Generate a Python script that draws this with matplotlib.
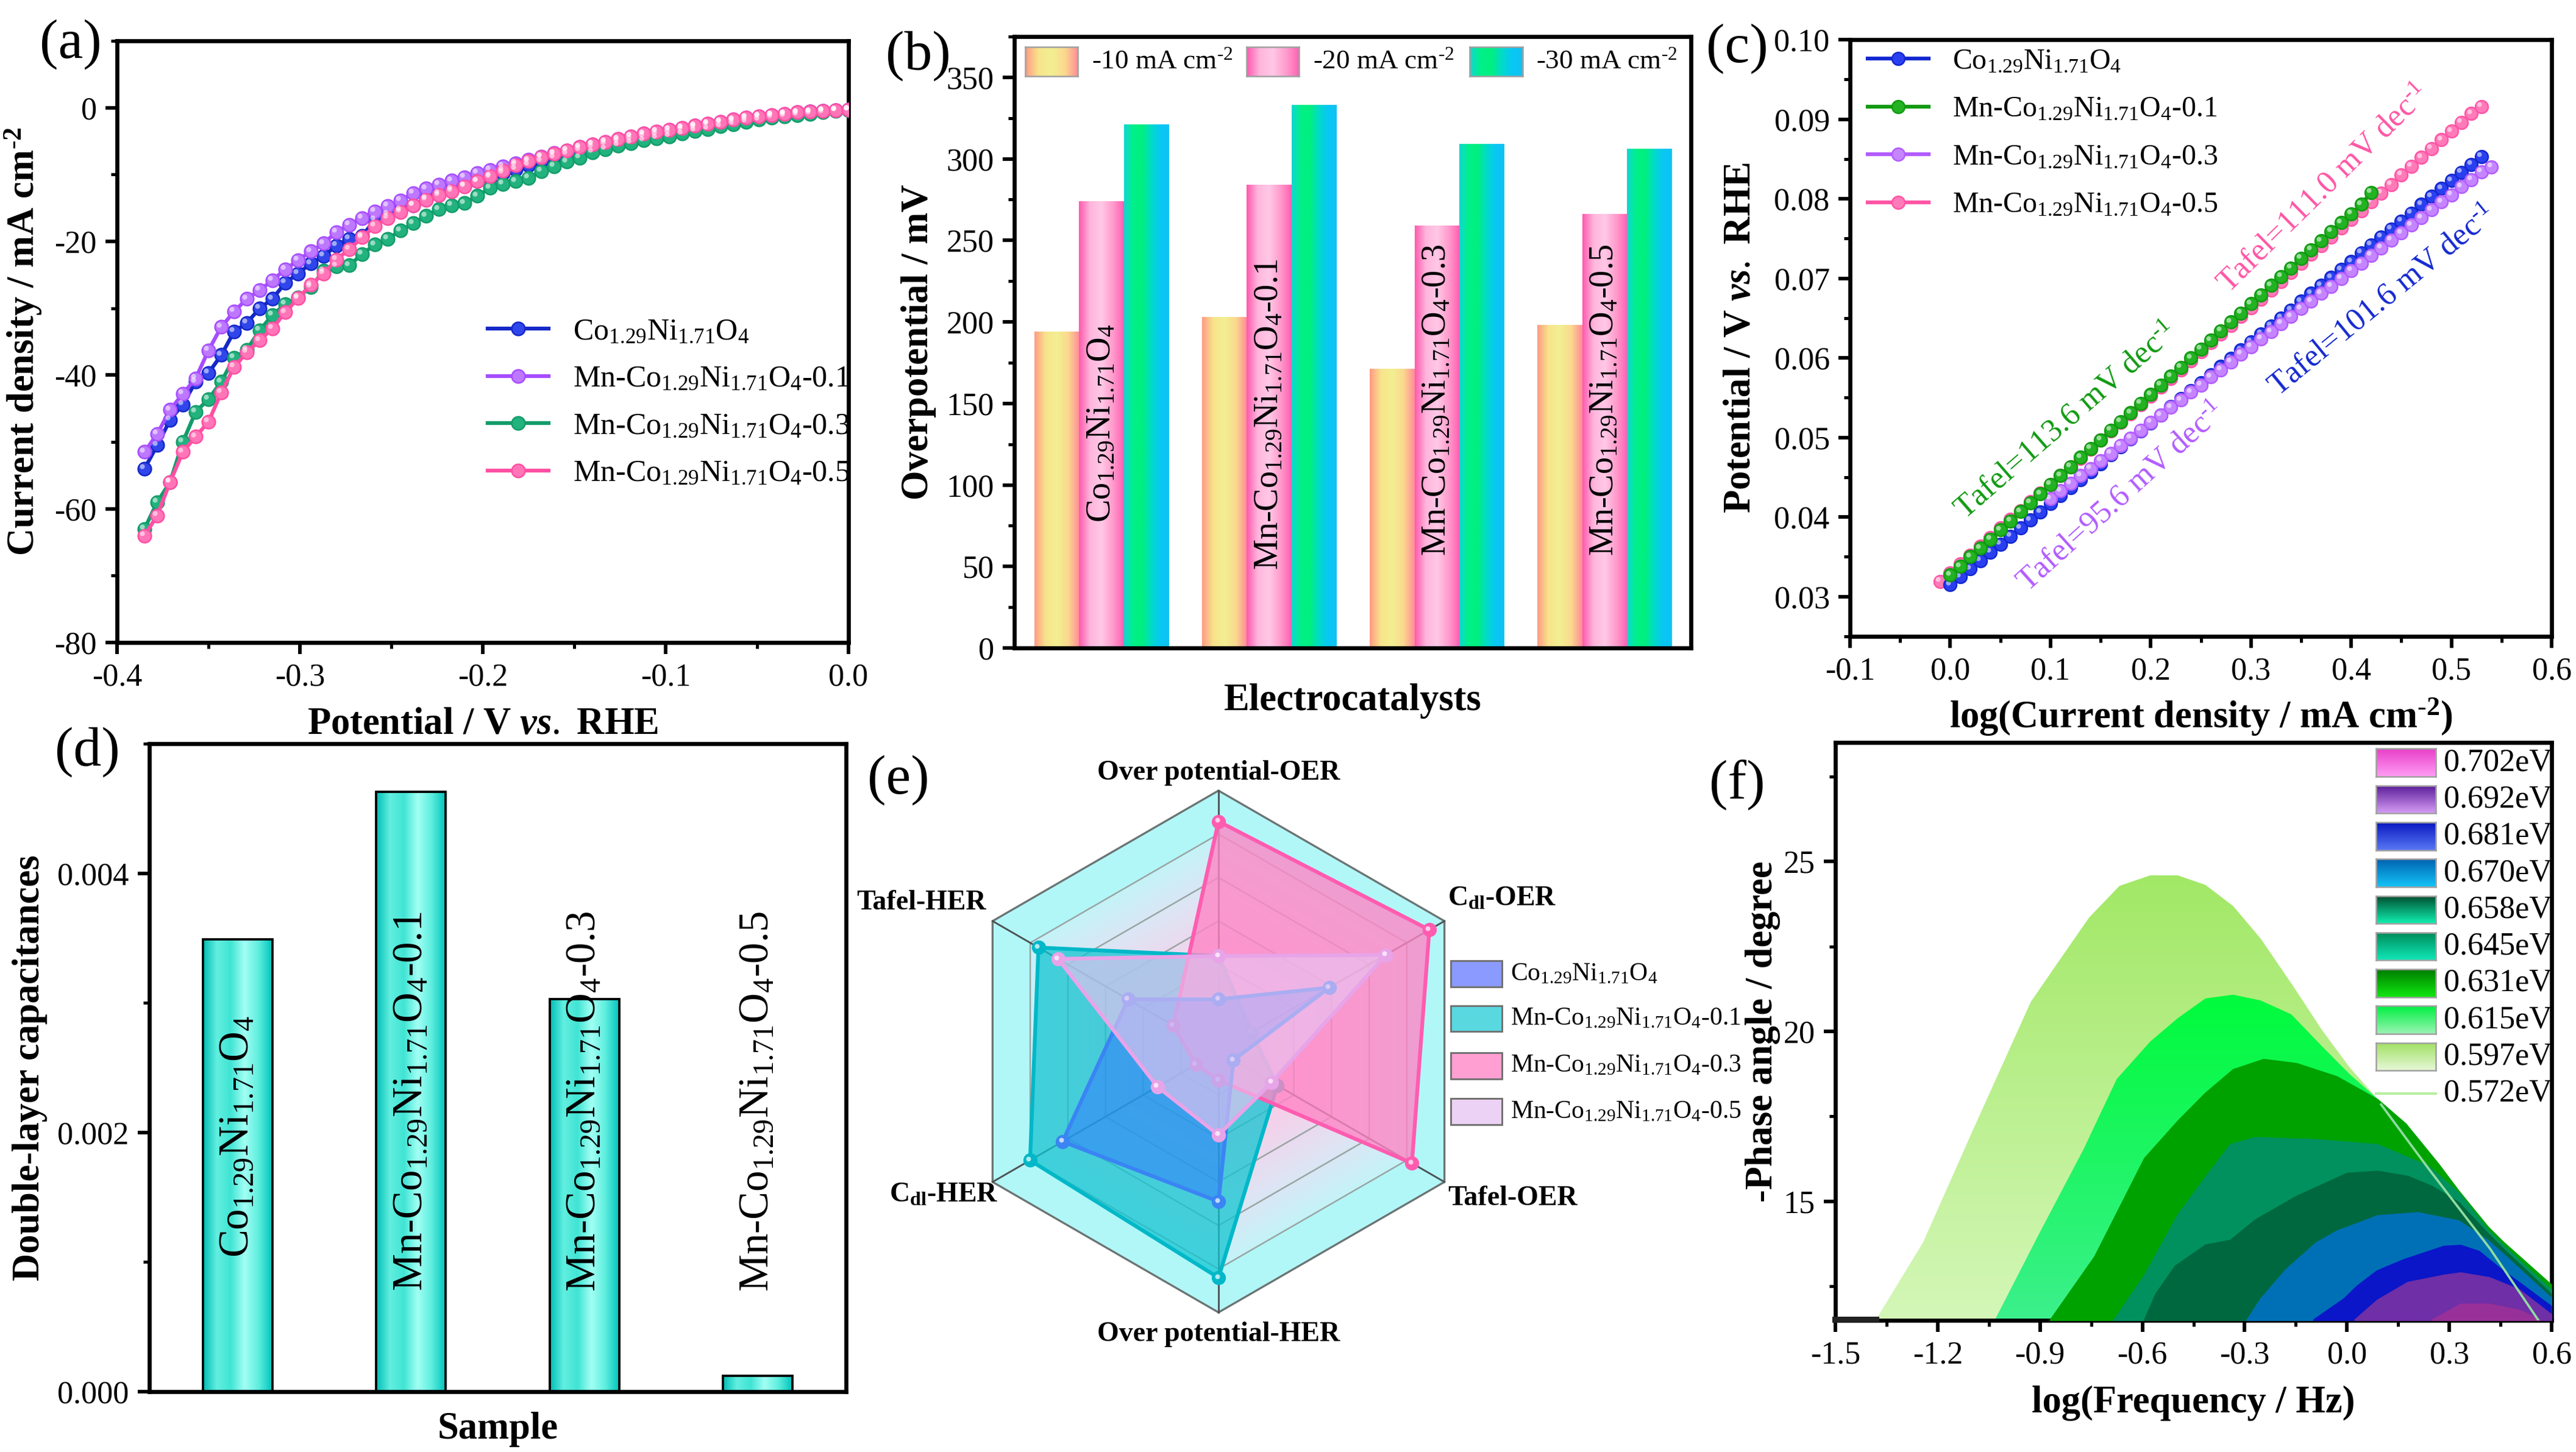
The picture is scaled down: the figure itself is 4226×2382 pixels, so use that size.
import numpy as np
import matplotlib
matplotlib.use("Agg")
import matplotlib.pyplot as plt
from matplotlib.colors import LinearSegmentedColormap
from matplotlib.lines import Line2D
from matplotlib.patches import Polygon, Rectangle
from matplotlib.ticker import MultipleLocator
from matplotlib.transforms import offset_copy

plt.rcParams.update({
    "font.family": ["Liberation Serif", "DejaVu Serif"],
    "mathtext.fontset": "custom",
    "mathtext.rm": "Liberation Serif",
    "mathtext.it": "Liberation Serif:italic:bold",
    "mathtext.bf": "Liberation Serif:bold",
    "mathtext.default": "regular",
    "axes.unicode_minus": False,
    "axes.linewidth": 1.6,
    "xtick.direction": "out",
    "ytick.direction": "out",
    "xtick.major.width": 1.4,
    "ytick.major.width": 1.4,
    "xtick.minor.width": 1.2,
    "ytick.minor.width": 1.2,
    "xtick.major.size": 4.5,
    "ytick.major.size": 4.5,
    "xtick.minor.size": 2.5,
    "ytick.minor.size": 2.5,
    "xtick.labelsize": 12.5,
    "ytick.labelsize": 12.5,
})

# ---------------------------------------------------------------- data
co_name = r"Co$_{1.29}$Ni$_{1.71}$O$_{4}$"
mn_name = r"Mn-Co$_{1.29}$Ni$_{1.71}$O$_{4}$-"
samples = [co_name, mn_name + "0.1", mn_name + "0.3", mn_name + "0.5"]
per_cm2 = r"cm$^{\text{-}2}$"

# (a) HER polarisation curves
lsv_potential = [-0.385, -0.378, -0.371, -0.364, -0.357, -0.350, -0.343, -0.336,
                 -0.329, -0.322, -0.315, -0.308, -0.301, -0.294, -0.287, -0.280,
                 -0.273, -0.266, -0.259, -0.252, -0.245, -0.238, -0.231, -0.224,
                 -0.217, -0.210, -0.203, -0.196, -0.189, -0.182, -0.175, -0.168,
                 -0.161, -0.154, -0.147, -0.140, -0.133, -0.126, -0.119, -0.112,
                 -0.105, -0.098, -0.091, -0.084, -0.077, -0.070, -0.063, -0.056,
                 -0.049, -0.042, -0.035, -0.028, -0.021, -0.014, -0.007, 0.000]
lsv_co = [-54.0, -50.5, -46.7, -44.4, -41.0, -39.7, -37.0, -33.5, -32.2, -30.0,
          -28.6, -26.2, -24.8, -23.3, -22.2, -20.6, -19.6, -19.2, -16.8, -16.0,
          -15.3, -14.6, -13.6, -12.9, -12.2, -11.7, -11.0, -10.4, -9.8, -9.2,
          -8.6, -8.0, -7.5, -6.9, -6.4, -5.9, -5.5, -5.1, -4.7, -4.3,
          -4.0, -3.7, -3.3, -3.0, -2.6, -2.3, -2.0, -1.7, -1.4, -1.2,
          -1.0, -0.8, -0.6, -0.5, -0.4, -0.3]
lsv_mn01 = [-51.5, -48.8, -45.2, -42.8, -40.5, -36.3, -32.8, -30.5, -28.6, -27.3,
            -25.8, -24.2, -22.8, -21.5, -20.3, -18.6, -17.5, -16.5, -15.5, -14.7,
            -13.9, -12.8, -12.1, -11.5, -10.9, -10.4, -9.8, -9.3, -8.8, -8.3,
            -7.8, -7.3, -6.8, -6.4, -5.9, -5.5, -5.1, -4.7, -4.3, -3.9,
            -3.6, -3.3, -3.0, -2.7, -2.4, -2.1, -1.8, -1.5, -1.3, -1.1,
            -0.9, -0.7, -0.6, -0.5, -0.4, -0.3]
lsv_mn03 = [-63.0, -59.0, -56.0, -50.0, -45.5, -43.6, -41.0, -37.4, -36.2, -33.3,
            -31.0, -29.4, -28.4, -26.8, -24.4, -23.7, -23.6, -21.9, -20.5, -19.6,
            -18.4, -17.3, -16.2, -15.2, -14.6, -14.3, -13.2, -12.0, -11.4, -11.0,
            -10.5, -9.5, -8.8, -8.1, -7.5, -6.7, -6.2, -5.7, -5.3, -4.9,
            -4.6, -4.3, -3.9, -3.5, -3.2, -2.8, -2.5, -2.1, -1.8, -1.5,
            -1.3, -1.1, -0.9, -0.7, -0.5, -0.4]
lsv_mn05 = [-64.0, -61.0, -56.0, -51.5, -49.2, -47.0, -42.6, -38.8, -36.6, -34.8,
            -33.0, -30.6, -28.5, -26.5, -24.8, -22.7, -21.2, -19.4, -17.7, -16.5,
            -15.6, -14.6, -13.8, -13.1, -12.5, -11.8, -11.0, -10.2, -9.4, -8.6,
            -8.0, -7.4, -6.9, -6.4, -5.9, -5.5, -5.1, -4.7, -4.3, -3.9,
            -3.6, -3.3, -3.0, -2.7, -2.4, -2.1, -1.8, -1.5, -1.3, -1.1,
            -0.9, -0.7, -0.6, -0.5, -0.4, -0.3]

# (b) overpotentials
current_levels = ["-10 mA " + per_cm2, "-20 mA " + per_cm2, "-30 mA " + per_cm2]
eta_10 = [194, 203, 171, 198]
eta_20 = [274, 284, 259, 266]
eta_30 = [321, 333, 309, 306]

# (c) Tafel plots
tafel_co_x = [0.00, 0.01, 0.02, 0.03, 0.04, 0.05, 0.06, 0.07, 0.08, 0.09,
              0.10, 0.11, 0.12, 0.13, 0.14, 0.15, 0.16, 0.17, 0.18, 0.19,
              0.20, 0.21, 0.22, 0.23, 0.24, 0.25, 0.26, 0.27, 0.28, 0.29,
              0.30, 0.31, 0.32, 0.33, 0.34, 0.35, 0.36, 0.37, 0.38, 0.39,
              0.40, 0.41, 0.42, 0.43, 0.44, 0.45, 0.46, 0.47, 0.48, 0.49,
              0.50, 0.51, 0.52, 0.53]
tafel_co_y = [0.0315, 0.0325, 0.0335, 0.0345, 0.0356, 0.0366, 0.0376, 0.0386, 0.0396, 0.0406,
              0.0417, 0.0427, 0.0437, 0.0447, 0.0457, 0.0467, 0.0478, 0.0488, 0.0498, 0.0508,
              0.0518, 0.0528, 0.0539, 0.0549, 0.0559, 0.0569, 0.0579, 0.0589, 0.0599, 0.0610,
              0.0620, 0.0630, 0.0640, 0.0650, 0.0660, 0.0671, 0.0681, 0.0691, 0.0701, 0.0711,
              0.0721, 0.0732, 0.0742, 0.0752, 0.0762, 0.0772, 0.0782, 0.0793, 0.0803, 0.0813,
              0.0823, 0.0833, 0.0843, 0.0853]
tafel_01_x = [0.00, 0.01, 0.02, 0.03, 0.04, 0.05, 0.06, 0.07, 0.08, 0.09,
              0.10, 0.11, 0.12, 0.13, 0.14, 0.15, 0.16, 0.17, 0.18, 0.19,
              0.20, 0.21, 0.22, 0.23, 0.24, 0.25, 0.26, 0.27, 0.28, 0.29,
              0.30, 0.31, 0.32, 0.33, 0.34, 0.35, 0.36, 0.37, 0.38, 0.39,
              0.40, 0.41, 0.42]
tafel_01_y = [0.0327, 0.0338, 0.0350, 0.0361, 0.0372, 0.0384, 0.0395, 0.0407, 0.0418, 0.0429,
              0.0441, 0.0452, 0.0463, 0.0475, 0.0486, 0.0497, 0.0509, 0.0520, 0.0531, 0.0543,
              0.0554, 0.0566, 0.0577, 0.0588, 0.0600, 0.0611, 0.0622, 0.0634, 0.0645, 0.0656,
              0.0668, 0.0679, 0.0691, 0.0702, 0.0713, 0.0725, 0.0736, 0.0747, 0.0759, 0.0770,
              0.0781, 0.0793, 0.0808]
tafel_03_x = [0.10, 0.11, 0.12, 0.13, 0.14, 0.15, 0.16, 0.17, 0.18, 0.19,
              0.20, 0.21, 0.22, 0.23, 0.24, 0.25, 0.26, 0.27, 0.28, 0.29,
              0.30, 0.31, 0.32, 0.33, 0.34, 0.35, 0.36, 0.37, 0.38, 0.39,
              0.40, 0.41, 0.42, 0.43, 0.44, 0.45, 0.46, 0.47, 0.48, 0.49,
              0.50, 0.51, 0.52, 0.53, 0.54]
tafel_03_y = [0.0423, 0.0433, 0.0442, 0.0452, 0.0461, 0.0471, 0.0480, 0.0490, 0.0499, 0.0509,
              0.0519, 0.0528, 0.0538, 0.0547, 0.0557, 0.0566, 0.0576, 0.0585, 0.0595, 0.0605,
              0.0614, 0.0624, 0.0633, 0.0643, 0.0652, 0.0662, 0.0671, 0.0681, 0.0690, 0.0700,
              0.0710, 0.0719, 0.0729, 0.0738, 0.0748, 0.0757, 0.0767, 0.0776, 0.0786, 0.0796,
              0.0805, 0.0815, 0.0824, 0.0834, 0.0840]
tafel_05_x = [-0.01, 0.00, 0.01, 0.02, 0.03, 0.04, 0.05, 0.06, 0.07, 0.08, 0.09,
              0.10, 0.11, 0.12, 0.13, 0.14, 0.15, 0.16, 0.17, 0.18, 0.19,
              0.20, 0.21, 0.22, 0.23, 0.24, 0.25, 0.26, 0.27, 0.28, 0.29,
              0.30, 0.31, 0.32, 0.33, 0.34, 0.35, 0.36, 0.37, 0.38, 0.39,
              0.40, 0.41, 0.42, 0.43, 0.44, 0.45, 0.46, 0.47, 0.48, 0.49,
              0.50, 0.51, 0.52, 0.53]
tafel_05_y = [0.0319, 0.0330, 0.0341, 0.0352, 0.0363, 0.0374, 0.0386, 0.0397, 0.0408, 0.0419, 0.0430,
              0.0441, 0.0452, 0.0463, 0.0474, 0.0485, 0.0497, 0.0508, 0.0519, 0.0530, 0.0541,
              0.0552, 0.0563, 0.0574, 0.0585, 0.0596, 0.0608, 0.0619, 0.0630, 0.0641, 0.0652,
              0.0663, 0.0674, 0.0685, 0.0696, 0.0707, 0.0719, 0.0730, 0.0741, 0.0752, 0.0763,
              0.0774, 0.0785, 0.0796, 0.0807, 0.0818, 0.0830, 0.0841, 0.0852, 0.0863, 0.0874,
              0.0885, 0.0896, 0.0907, 0.0916]
per_dec = r" mV dec$^{\text{-}1}$"
tafel_notes = ["Tafel=101.6" + per_dec, "Tafel=113.6" + per_dec,
               "Tafel=95.6" + per_dec, "Tafel=111.0" + per_dec]

# (d) double-layer capacitance
cdl_values = [0.00349, 0.00463, 0.00303, 0.000123]

# (e) radar (normalised scores)
radar_axes = ["Over potential-OER", "C$_{dl}$-OER", "Tafel-OER",
              "Over potential-HER", "C$_{dl}$-HER", "Tafel-HER"]
radar_co = [0.20, 0.49, 0.066, 0.575, 0.69, 0.40]
radar_mn01 = [0.366, 0.146, 0.26, 0.867, 0.834, 0.797]
radar_mn03 = [0.882, 0.933, 0.856, 0.11, 0.10, 0.20]
radar_mn05 = [0.366, 0.74, 0.236, 0.32, 0.27, 0.71]

# (f) phase-angle contours
dos_labels = ["0.702eV", "0.692eV", "0.681eV", "0.670eV", "0.658eV",
              "0.645eV", "0.631eV", "0.615eV", "0.597eV"]
dos_597_x = [-1.381, -1.243, -1.097, -0.927, -0.837, -0.756, -0.667, -0.577, -0.496, -0.415,
             -0.334, -0.253, -0.155, -0.074, 0.007, 0.089, 0.172, 0.267, 0.327, 0.413, 0.458, 0.598]
dos_597_y = [11.52, 13.79, 17.09, 20.87, 22.18, 23.35, 24.28, 24.59, 24.59, 24.31,
             23.69, 22.73, 21.29, 20.05, 18.95, 18.02, 17.30, 16.13, 15.33, 14.27, 13.83, 12.58]
dos_615_x = [-1.032, -0.902, -0.772, -0.675, -0.577, -0.496, -0.415, -0.334, -0.253, -0.163,
             -0.074, 0.007, 0.089, 0.172, 0.267, 0.327, 0.413, 0.458, 0.598]
dos_615_y = [11.52, 14.06, 16.54, 18.60, 19.70, 20.39, 20.97, 21.08, 20.91, 20.50,
             19.57, 18.75, 18.02, 17.30, 16.13, 15.33, 14.27, 13.83, 12.58]
dos_631_x = [-0.870, -0.740, -0.594, -0.496, -0.415, -0.334, -0.245, -0.149, -0.030, 0.089,
             0.172, 0.267, 0.327, 0.413, 0.458, 0.598]
dos_631_y = [11.52, 13.38, 16.27, 17.37, 18.19, 18.88, 19.18, 19.06, 18.67, 18.00,
             17.28, 16.11, 15.31, 14.25, 13.80, 12.55]
dos_645_x = [-0.683, -0.594, -0.496, -0.415, -0.342, -0.269, -0.090, 0.089, 0.238, 0.327,
             0.413, 0.458, 0.598]
dos_645_y = [11.52, 12.83, 14.61, 15.72, 16.68, 16.88, 16.82, 16.67, 16.04, 15.25,
             14.15, 13.70, 12.40]
dos_658_x = [-0.594, -0.561, -0.504, -0.415, -0.342, -0.269, -0.149, 0.000, 0.089, 0.178,
             0.250, 0.327, 0.413, 0.458, 0.598]
dos_658_y = [11.52, 12.28, 13.10, 13.72, 13.86, 14.46, 15.15, 15.83, 15.89, 15.74,
             15.44, 14.97, 14.05, 13.60, 12.28]
dos_670_x = [-0.293, -0.253, -0.179, -0.090, -0.030, 0.089, 0.208, 0.327, 0.413, 0.458, 0.598]
dos_670_y = [11.52, 12.14, 13.00, 13.79, 14.13, 14.58, 14.67, 14.43, 13.85, 13.45, 12.16]
dos_681_x = [-0.098, -0.009, 0.030, 0.088, 0.166, 0.283, 0.333, 0.387, 0.446, 0.598]
dos_681_y = [11.52, 12.14, 12.52, 12.96, 13.29, 13.68, 13.71, 13.53, 13.05, 11.92]
dos_692_x = [0.023, 0.089, 0.178, 0.283, 0.333, 0.417, 0.505, 0.598]
dos_692_y = [11.52, 12.10, 12.62, 12.83, 12.90, 12.76, 12.40, 11.68]
dos_702_x = [0.250, 0.333, 0.417, 0.505, 0.565]
dos_702_y = [11.52, 11.98, 11.98, 11.80, 11.52]
dos_572_x = [0.100, 0.240, 0.420, 0.560]
dos_572_y = [17.85, 15.95, 13.60, 11.52]
dos_base_x = [-1.50, -1.38]
dos_base_y = [11.52, 11.52]

# ---------------------------------------------------------------- helpers
W, H = 4226, 2382
fig = plt.figure(figsize=(W / 300, H / 300), dpi=300)


def px_axes(left, top, right, bottom):
    return fig.add_axes([left / W, (H - bottom) / H, (right - left) / W, (bottom - top) / H])


def gradient_rect(ax, x0, x1, y0, y1, colors, horizontal=True, zorder=2):
    cmap = LinearSegmentedColormap.from_list("grad", colors)
    grad = np.linspace(0, 1, 256)
    grad = grad.reshape(1, -1) if horizontal else grad.reshape(-1, 1)
    ax.imshow(grad, cmap=cmap, extent=(x0, x1, y0, y1), origin="lower",
              aspect="auto", interpolation="bilinear", zorder=zorder)


def gradient_fill(ax, xs, ys, base, colors, zorder):
    verts = [(xs[0], base)] + list(zip(xs, ys)) + [(xs[-1], base)]
    clip = Polygon(verts, closed=True, fc="none", ec="none")
    ax.add_patch(clip)
    cmap = LinearSegmentedColormap.from_list("fill", colors)
    img = ax.imshow(np.linspace(0, 1, 256).reshape(-1, 1), cmap=cmap, origin="lower",
                    aspect="auto", interpolation="bilinear", zorder=zorder,
                    extent=(min(xs), max(xs), base, max(ys)))
    img.set_clip_path(clip)


def beads(ax, x, y, line, face, ms=5.2, zorder=3):
    ax.plot(x, y, "-", color=line, lw=1.5, marker="o", ms=ms, mfc=face,
            mec=line, mew=0.6, zorder=zorder)
    shine = offset_copy(ax.transData, fig=fig, x=-ms * 0.17, y=ms * 0.17, units="points")
    ax.plot(x, y, ls="none", marker="o", ms=ms * 0.38, mfc="white", mec="none",
            alpha=0.55, transform=shine, zorder=zorder + 0.1)


def bead_handle(line, face, ms=5.2):
    return Line2D([], [], color=line, lw=1.5, marker="o", ms=ms, mfc=face, mec=line, mew=0.6)


def box_ticks(ax, xmaj, xmin, ymaj, ymin):
    ax.xaxis.set_major_locator(MultipleLocator(xmaj))
    ax.xaxis.set_minor_locator(MultipleLocator(xmin))
    ax.yaxis.set_major_locator(MultipleLocator(ymaj))
    ax.yaxis.set_minor_locator(MultipleLocator(ymin))
    ax.tick_params(which="both", top=False, right=False)


def inset_swatch(ax, rect, colors, horizontal):
    sw = ax.inset_axes(rect)
    grad = np.linspace(0, 1, 256)
    grad = grad.reshape(1, -1) if horizontal else grad.reshape(-1, 1)
    sw.imshow(grad, cmap=LinearSegmentedColormap.from_list("sw", colors),
              origin="lower", aspect="auto", interpolation="bilinear")
    sw.set_xticks([])
    sw.set_yticks([])
    for s in sw.spines.values():
        s.set_color("#a0a0a0")
        s.set_linewidth(0.6)
    return sw


label_kw = dict(fontsize=15, fontweight="bold")

# ---------------------------------------------------------------- (a)
ax = px_axes(192, 67, 1392, 1054)
lsv_styles = [("#1428c8", "#3045ea"), ("#a64dff", "#bd78ff"),
              ("#129c6a", "#22b27e"), ("#ff4fa3", "#ff75b8")]
lsv_series = [lsv_co, lsv_mn01, lsv_mn03, lsv_mn05]
for idx in [3, 1, 0, 2]:
    beads(ax, lsv_potential, lsv_series[idx], *lsv_styles[idx], zorder=3 + idx * 0.01)
ax.set_xlim(-0.4, 0.0)
ax.set_ylim(-80, 10)
box_ticks(ax, 0.1, 0.05, 20, 10)
ax.set_xlabel(r"Potential / V $\mathit{vs.}$ RHE", labelpad=6, **label_kw)
ax.set_ylabel("Current density / mA " + per_cm2, labelpad=4, **label_kw)
ax.legend([bead_handle(*s) for s in lsv_styles], samples, loc="upper left",
          bbox_to_anchor=(0.49, 0.56), frameon=False, fontsize=12,
          handlelength=2.0, labelspacing=0.62, borderaxespad=0)

# ---------------------------------------------------------------- (b)
ax = px_axes(1664, 60, 2774, 1063)
bar_w = 0.267
group_pos = np.arange(len(samples))
bar_colors = [["#ff9a84", "#f8e48c", "#f2ef92", "#fbd98e", "#ff8c98"],
              ["#ff58ae", "#ffb6dc", "#ffc8e6", "#ff9ccd", "#ff5fb2"],
              ["#12d6d4", "#00f08a", "#00f07e", "#00dcc6", "#08c8f4", "#10c2f4"]]
for k, vals in enumerate([eta_10, eta_20, eta_30]):
    bars = ax.bar(group_pos + (k - 1) * bar_w, vals, bar_w, color="none", edgecolor="none")
    for b in bars:
        gradient_rect(ax, b.get_x(), b.get_x() + b.get_width(), 0, b.get_height(), bar_colors[k])
bar_text_y = [138, 143, 152, 152]
for gp, name, ty in zip(group_pos, samples, bar_text_y):
    ax.text(gp, ty, name, rotation=90, ha="center", va="center", fontsize=13.5, zorder=5)
ax.set_xlim(-0.52, 3.515)
ax.set_ylim(0, 375)
ax.set_xticks([])
ax.yaxis.set_major_locator(MultipleLocator(50))
ax.yaxis.set_minor_locator(MultipleLocator(25))
ax.tick_params(which="both", right=False)
ax.set_xlabel("Electrocatalysts", labelpad=14, **label_kw)
ax.set_ylabel("Overpotential / mV", labelpad=4, **label_kw)
for k, txt in enumerate(current_levels):
    x0 = [0.016, 0.343, 0.673][k]
    inset_swatch(ax, [x0, 0.935, 0.078, 0.048], bar_colors[k], True)
    ax.text(x0 + 0.098, 0.959, txt, transform=ax.transAxes, ha="left", va="center", fontsize=10.8)

# ---------------------------------------------------------------- (c)
ax = px_axes(3035, 65, 4186, 1044)
tafel_styles = [("#1428d0", "#2a40f0"), ("#119a11", "#22b222"),
                ("#b25cff", "#c585ff"), ("#ff55a5", "#ff7ab9")]
beads(ax, tafel_05_x, tafel_05_y, *tafel_styles[3], ms=5.0, zorder=3.0)
beads(ax, tafel_co_x, tafel_co_y, *tafel_styles[0], ms=5.0, zorder=3.2)
beads(ax, tafel_03_x, tafel_03_y, *tafel_styles[2], ms=5.0, zorder=3.4)
beads(ax, tafel_01_x, tafel_01_y, *tafel_styles[1], ms=5.0, zorder=3.6)
ax.set_xlim(-0.1, 0.6)
ax.set_ylim(0.025, 0.10)
box_ticks(ax, 0.1, 0.05, 0.01, 0.005)
ax.set_xlabel("log(Current density / mA " + per_cm2 + ")", labelpad=4, **label_kw)
ax.set_ylabel(r"Potential / V $\mathit{vs.}$ RHE", labelpad=6, **label_kw)
note_pos = [(0.4315, 0.0671, 39.3), (0.116, 0.052, 41.0), (0.1706, 0.0425, 42.0), (0.373, 0.0812, 44.5)]
for (nx, ny, rot), txt, (col, _) in zip(note_pos, tafel_notes, tafel_styles):
    ax.text(nx, ny, txt, color=col, rotation=rot, rotation_mode="anchor",
            ha="center", va="center", fontsize=12.5)
ax.legend([bead_handle(*s, ms=5.0) for s in tafel_styles], samples, loc="upper left",
          bbox_to_anchor=(0.0, 1.015), frameon=False, fontsize=11.5,
          handlelength=2.1, labelspacing=0.72, borderaxespad=0.2)

# ---------------------------------------------------------------- (d)
ax = px_axes(245, 1220, 1388, 2283)
cdl_pos = np.arange(1, len(samples) + 1)
cyl = ["#00bdb5", "#62efe0", "#40e4d4", "#a2fff4", "#5eeede", "#00c4bc"]
bars = ax.bar(cdl_pos, cdl_values, 0.4, color="none", edgecolor="black", linewidth=0.9, zorder=3)
for b in bars:
    gradient_rect(ax, b.get_x(), b.get_x() + b.get_width(), 0, b.get_height(), cyl)
for bp, name in zip(cdl_pos, samples):
    ty = 0.00197 if bp == 1 else 0.00224
    ax.text(bp, ty, name, rotation=90, ha="center", va="center", fontsize=16.5, zorder=5)
ax.set_xlim(0.49, 4.51)
ax.set_ylim(0, 0.005)
ax.set_xticks([])
ax.yaxis.set_major_locator(MultipleLocator(0.002))
ax.yaxis.set_minor_locator(MultipleLocator(0.001))
ax.yaxis.set_major_formatter(matplotlib.ticker.FormatStrFormatter("%.3f"))
ax.tick_params(which="both", right=False)
ax.set_xlabel("Sample", labelpad=8, **label_kw)
ax.set_ylabel("Double-layer capacitances", labelpad=4, **label_kw)

# ---------------------------------------------------------------- (e)
R = 428.0
ax = px_axes(1450, 1230, 2750, 2250)
ax.set_xlim(-(1999 - 1450) / R, (2750 - 1999) / R)
ax.set_ylim(-(2250 - 1725) / R, (1725 - 1230) / R)
ax.axis("off")
theta = np.deg2rad(90 - 60 * np.arange(6))


def hexagon(r):
    return np.column_stack([r * np.cos(theta), r * np.sin(theta)])


ax.add_patch(Polygon(hexagon(1.0), closed=True, fc="#b2f7f8", ec="none", zorder=0))
inner = Polygon(hexagon(5 / 6), closed=True, fc="none", ec="none")
ax.add_patch(inner)
gx, gy = np.meshgrid(np.linspace(-1, 1, 400), np.linspace(-1, 1, 400))
hexdist = np.max([np.abs(gx * np.cos(a) + gy * np.sin(a)) for a in np.deg2rad([0, 60, 120])],
                 axis=0) / np.cos(np.deg2rad(30)) / (5 / 6)
bg_cmap = LinearSegmentedColormap.from_list(
    "bg", [(0, "#fcc6e4"), (0.45, "#f6d0ea"), (0.75, "#dfe4f4"), (1.0, "#c4f3f8")])
img = ax.imshow(np.clip(hexdist, 0, 1), cmap=bg_cmap, vmin=0, vmax=1, origin="lower",
                extent=(-1, 1, -1, 1), interpolation="bilinear", zorder=0.5)
img.set_clip_path(inner)
for k in range(1, 7):
    ring = hexagon(k / 6)
    ax.add_patch(Polygon(ring, closed=True, fc="none",
                         ec="#6c7474" if k == 6 else "#9aa4a4", lw=0.8 if k == 6 else 0.6, zorder=1))
for a in theta:
    ax.plot([0, np.cos(a)], [0, np.sin(a)], color="#4c5454", lw=0.7, zorder=1.1)

radar_styles = [  # data, fill, alpha, edge, legend colour
    (radar_mn01, "#12c6d2", 0.75, "#00b8c8", "#5ad8e0"),
    (radar_mn03, "#ff86c6", 0.80, "#ff5cb0", "#ff9fd2"),
    (radar_co, "#2f78ff", 0.50, "#3a84f4", "#8a9aff"),
    (radar_mn05, "#e8c4f2", 0.65, "#e8a4e8", "#ecd2f4"),
]
for z, (vals, fc, al, ec, _) in enumerate(radar_styles):
    rx = np.array(vals) * np.cos(theta)
    ry = np.array(vals) * np.sin(theta)
    ax.fill(rx, ry, fc=fc, alpha=al, ec="none", zorder=2 + z)
    ax.plot(np.append(rx, rx[0]), np.append(ry, ry[0]), color=ec, lw=1.5, zorder=2.5 + z)
    ax.plot(rx, ry, ls="none", marker="o", ms=4.6, mfc=ec, mec=ec, zorder=2.6 + z)
    shine = offset_copy(ax.transData, fig=fig, x=-0.6, y=0.6, units="points")
    ax.plot(rx, ry, ls="none", marker="o", ms=1.9, mfc="white", mec="none", alpha=0.7,
            transform=shine, zorder=2.7 + z)

axis_label_pos = [(0, 1.068), (1.086, 0.584), (1.128, -0.563),
                  (0, -1.084), (-1.054, -0.551), (-1.140, 0.570)]
for (lx, ly), txt in zip(axis_label_pos, radar_axes):
    ax.text(lx, ly, txt, ha="center", va="center", fontsize=11, fontweight="bold")
legend_order = [2, 0, 1, 3]
for row, idx in enumerate(legend_order):
    cy = [0.297, 0.126, -0.054, -0.231][row]
    ax.add_patch(Rectangle((0.890, cy - 0.05), 0.196, 0.10, fc=radar_styles[idx][4],
                           ec="#707070", lw=0.7, zorder=3))
    ax.text(1.12, cy, samples[row], ha="left", va="center", fontsize=10)

# ---------------------------------------------------------------- (f)
ax = px_axes(3011, 1218, 4186, 2166)
base = 11.5
gradient_fill(ax, dos_597_x, dos_597_y, base, ["#d4f7b8", "#a2e866"], 1)
gradient_fill(ax, dos_615_x, dos_615_y, base, ["#3cf08c", "#00fb3c"], 2)
solid = [(dos_631_x, dos_631_y, "#00a200"), (dos_645_x, dos_645_y, "#00915f"),
         (dos_658_x, dos_658_y, "#00683e"), (dos_670_x, dos_670_y, "#0070b6"),
         (dos_681_x, dos_681_y, "#0a16c8"), (dos_692_x, dos_692_y, "#6f2fa6"),
         (dos_702_x, dos_702_y, "#98309a")]
for z, (sx, sy, c) in enumerate(solid):
    ax.fill_between(sx, base, sy, color=c, lw=0.6, ec=c, zorder=3 + z)
ax.plot(dos_572_x, dos_572_y, color="#8fdca0", lw=0.9, zorder=12)
ax.plot(dos_base_x, dos_base_y, color="#222222", lw=2.4, zorder=12, clip_on=False)
ax.set_xlim(-1.5, 0.6)
ax.set_ylim(base, 28.5)
ax.xaxis.set_major_locator(MultipleLocator(0.3))
ax.xaxis.set_minor_locator(MultipleLocator(0.15))
ax.yaxis.set_major_locator(MultipleLocator(5))
ax.yaxis.set_minor_locator(matplotlib.ticker.FixedLocator([12.5, 17.5, 22.5, 27.5]))
ax.tick_params(which="both", top=False, right=False)
ax.set_xlabel("log(Frequency / Hz)", labelpad=6, **label_kw)
ax.set_ylabel("-Phase angle / degree", labelpad=1, **label_kw)
swatch_colors = [("#ff9cf4", "#e840c8"), ("#d69cf6", "#5a1c98"), ("#5a78f4", "#0818c0"),
                 ("#14c4f8", "#0062b0"), ("#10f0b0", "#004c2e"), ("#10e8b8", "#008a58"),
                 ("#10e810", "#007c00"), ("#9af4b4", "#00f040"), ("#e6f8d8", "#a0e060")]
for row, (txt, cols) in enumerate(zip(dos_labels, swatch_colors)):
    cy = 0.965 - row * 0.0636
    inset_swatch(ax, [0.755, cy - 0.024, 0.083, 0.048], list(cols), False)
    ax.text(0.849, cy, txt, transform=ax.transAxes, ha="left", va="center", fontsize=12.5)
cy = 0.965 - 9 * 0.0636
ax.plot([0.755, 0.838], [cy, cy], transform=ax.transAxes, color="#b8eea0", lw=1.0)
ax.text(0.849, cy, "0.572eV", transform=ax.transAxes, ha="left", va="center", fontsize=12.5)

# ---------------------------------------------------------------- panel letters
for letter, (px, py) in zip("abcdef", [(116, 73), (1506, 92), (2850, 80),
                                       (143, 1234), (1474, 1280), (2850, 1287)]):
    fig.text(px / W, 1 - py / H, f"({letter})", fontsize=22, ha="center", va="center")

fig.savefig("out.png", dpi=300)
